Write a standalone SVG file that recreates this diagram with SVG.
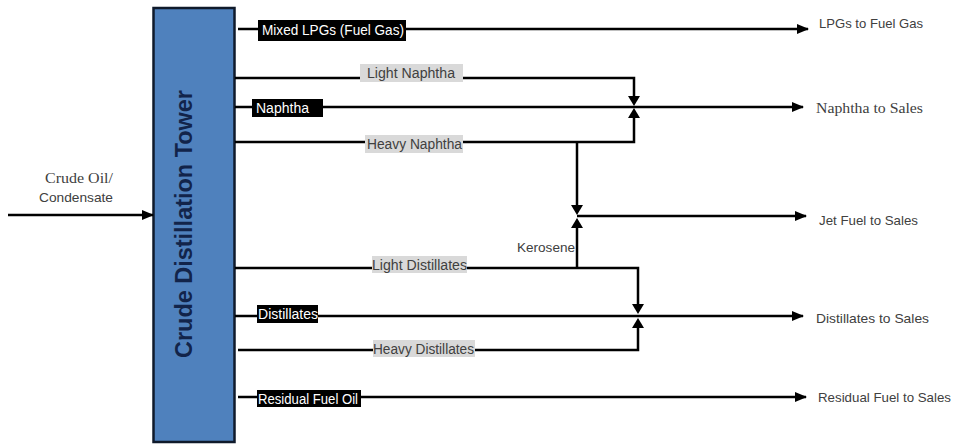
<svg xmlns="http://www.w3.org/2000/svg" width="954" height="447" viewBox="0 0 954 447">
<style>
.ln{fill:none;stroke:#000;stroke-width:2.5}
.arr{marker-end:url(#ah)}
.dk{fill:#000}
.gy{fill:#d9d9d9}
.lw{font-family:"Liberation Sans",Arial,sans-serif;font-size:14px;fill:#fff}
.lg{font-family:"Liberation Sans",Arial,sans-serif;font-size:14px;fill:#404040}
.os{font-family:"Liberation Sans",Arial,sans-serif;font-size:13px;fill:#404040}
.sf{font-family:"Liberation Serif","Times New Roman",serif;font-size:15px;fill:#404040}
</style>
<defs>
<marker id="ah" markerUnits="userSpaceOnUse" markerWidth="12" markerHeight="12" refX="11" refY="5" orient="auto" viewBox="0 0 12 10">
<path d="M0,0 L12,5 L0,10 Z" fill="#000"/>
</marker>
</defs>
<rect width="954" height="447" fill="#fff"/>
<g id="tower">
<rect x="153.5" y="8" width="81" height="434" fill="#4f81bd" stroke="#0f1a2b" stroke-width="2.5"/>
<text transform="translate(192,224) rotate(-90)" text-anchor="middle" font-family="Liberation Sans,Arial,sans-serif" font-weight="bold" font-size="23" fill="#12244a" textLength="268" lengthAdjust="spacingAndGlyphs">Crude Distillation Tower</text>
</g>
<g id="connectors">
<line class="ln arr" x1="8" y1="215" x2="153" y2="215"/>
<line class="ln arr" x1="238" y1="29" x2="808" y2="29"/>
<polyline class="ln" points="235,78 634,78 634,96"/>
<line class="ln arr" x1="235" y1="107" x2="803" y2="107"/>
<polyline class="ln" points="235,142 634,142 634,118"/>
<line class="ln" x1="577" y1="142" x2="577" y2="205"/>
<line class="ln arr" x1="577" y1="216" x2="806" y2="216"/>
<polyline class="ln" points="235,268 638,268 638,304"/>
<line class="ln" x1="577" y1="268" x2="577" y2="228"/>
<line class="ln arr" x1="235" y1="316" x2="803" y2="316"/>
<polyline class="ln" points="238,350 638,350 638,328"/>
<line class="ln arr" x1="238" y1="397" x2="806" y2="397"/>
<path d="M628,96 L640,96 L634,106 Z"/>
<path d="M628,118 L640,118 L634,108 Z"/>
<path d="M571,205 L583,205 L577,215 Z"/>
<path d="M571,228 L583,228 L577,218 Z"/>
<path d="M632,304 L644,304 L638,314 Z"/>
<path d="M632,328 L644,328 L638,318 Z"/>
</g>
<g id="label-mixed-lpgs">
<rect class="dk" x="258" y="20" width="148" height="21"/>
<text class="lw" x="262" y="35" textLength="142" lengthAdjust="spacingAndGlyphs">Mixed LPGs (Fuel Gas)</text>
</g>
<g id="label-light-naphtha">
<rect class="gy" x="360" y="64" width="103" height="18"/>
<text class="lg" x="367" y="78" textLength="88" lengthAdjust="spacingAndGlyphs">Light Naphtha</text>
</g>
<g id="label-naphtha">
<rect class="dk" x="252" y="99" width="71" height="18"/>
<text class="lw" x="256" y="113" textLength="53" lengthAdjust="spacingAndGlyphs">Naphtha</text>
</g>
<g id="label-heavy-naphtha">
<rect class="gy" x="365" y="135" width="98" height="18"/>
<text class="lg" x="367" y="149" textLength="95" lengthAdjust="spacingAndGlyphs">Heavy Naphtha</text>
</g>
<g id="label-light-distillates">
<rect class="gy" x="372" y="256" width="95" height="17"/>
<text class="lg" x="372" y="270" textLength="95" lengthAdjust="spacingAndGlyphs">Light Distillates</text>
</g>
<g id="label-distillates">
<rect class="dk" x="257" y="305" width="61" height="18"/>
<text class="lw" x="258" y="319" textLength="60" lengthAdjust="spacingAndGlyphs">Distillates</text>
</g>
<g id="label-heavy-distillates">
<rect class="gy" x="373" y="340" width="102" height="17"/>
<text class="lg" x="373" y="354" textLength="101" lengthAdjust="spacingAndGlyphs">Heavy Distillates</text>
</g>
<g id="label-residual">
<rect class="dk" x="257" y="390" width="104" height="17"/>
<text class="lw" x="258" y="404" textLength="100" lengthAdjust="spacingAndGlyphs">Residual Fuel Oil</text>
</g>
<g id="label-kerosene">
<text class="os" x="517" y="252" textLength="58" lengthAdjust="spacingAndGlyphs">Kerosene</text>
</g>
<g id="input">
<text class="sf" x="79" y="183" text-anchor="middle" textLength="68" lengthAdjust="spacingAndGlyphs">Crude Oil/</text>
<text class="os" x="76" y="202" text-anchor="middle" textLength="74" lengthAdjust="spacingAndGlyphs">Condensate</text>
</g>
<g id="outputs">
<text class="os" x="819" y="28" textLength="104" lengthAdjust="spacingAndGlyphs">LPGs to Fuel Gas</text>
<text class="sf" x="816" y="113" textLength="107" lengthAdjust="spacingAndGlyphs">Naphtha to Sales</text>
<text class="os" x="819" y="225" textLength="99" lengthAdjust="spacingAndGlyphs">Jet Fuel to Sales</text>
<text class="os" x="816" y="323" textLength="113" lengthAdjust="spacingAndGlyphs">Distillates to Sales</text>
<text class="os" x="818" y="402" textLength="133" lengthAdjust="spacingAndGlyphs">Residual Fuel to Sales</text>
</g>
</svg>
